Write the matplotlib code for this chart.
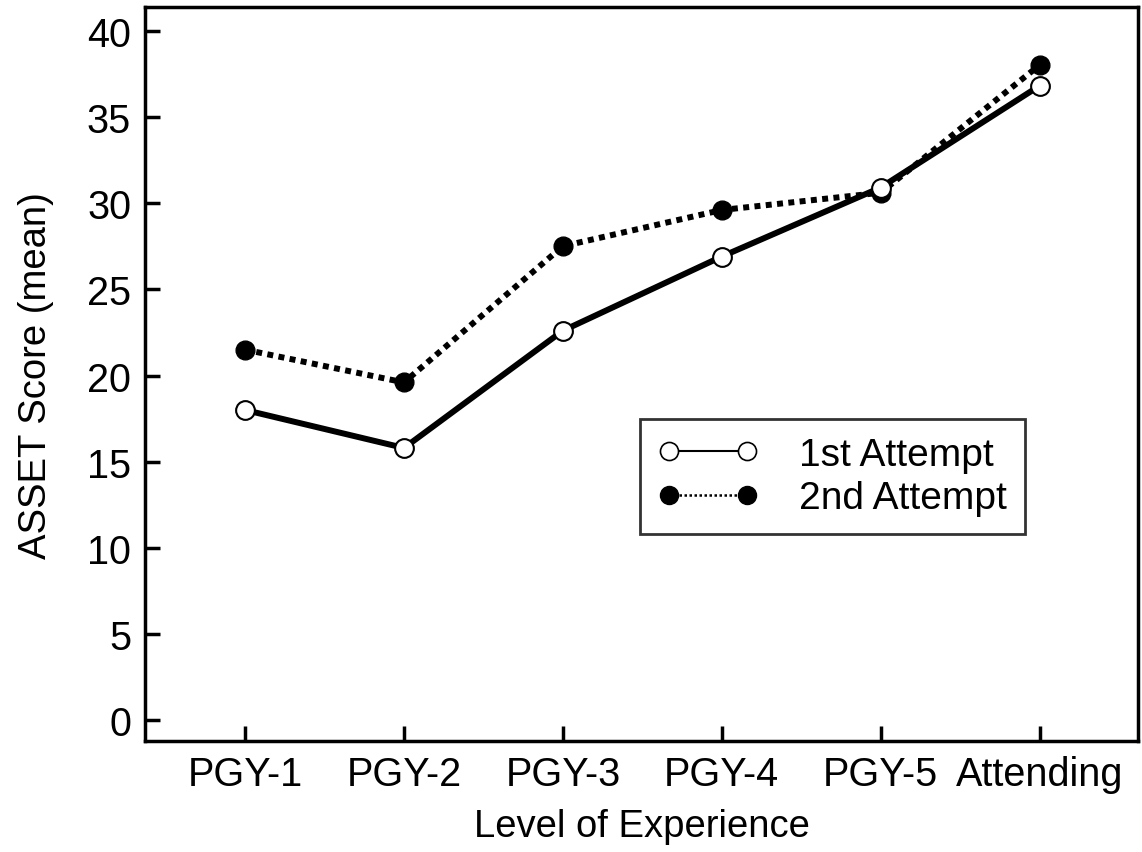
import matplotlib
matplotlib.use("Agg")
import matplotlib.pyplot as plt
from matplotlib.lines import Line2D

categories = ["PGY-1", "PGY-2", "PGY-3", "PGY-4", "PGY-5", "Attending"]
first_attempt = [18.0, 15.8, 22.6, 26.9, 30.9, 36.8]
second_attempt = [21.5, 19.6, 27.5, 29.6, 30.6, 38.0]
yticks = [0, 5, 10, 15, 20, 25, 30, 35, 40]

plt.rcParams['font.family'] = ['Liberation Sans', 'DejaVu Sans']

fig = plt.figure(figsize=(11.42, 8.53), dpi=100)
ax = fig.add_axes([0.127, 0.130, 0.8695, 0.8606])

x = list(range(len(categories)))
ax.plot(x, second_attempt, linestyle=(0, (1, 0.9)), color='black', linewidth=4.3,
        marker='o', markersize=13.5, markerfacecolor='black', markeredgecolor='black', zorder=2)
ax.plot(x, first_attempt, linestyle='-', color='black', linewidth=4.3,
        marker='o', markersize=13.5, markerfacecolor='white', markeredgecolor='black',
        markeredgewidth=1.5, zorder=3)

ax.set_xlim(-0.63, 5.62)
ax.set_ylim(-1.2, 41.37)
ax.set_xticks(x)
ax.set_xticklabels(categories)
ax.set_yticks(yticks)
ax.tick_params(direction='in', length=11, width=2.5, labelsize=28.5, pad=10)
for s in ax.spines.values():
    s.set_linewidth(2.5)

ax.set_xlabel("Level of Experience", fontsize=27.5, labelpad=11)
ax.set_ylabel("ASSET Score (mean)", fontsize=27.5, labelpad=24)

handles = [
    Line2D([], [], color='black', linestyle='-', linewidth=1.5, marker='o', markersize=13,
           markerfacecolor='white', markeredgecolor='black', markeredgewidth=1.2),
    Line2D([], [], color='black', linestyle=(0, (1, 1)), linewidth=1.8, marker='o', markersize=13,
           markerfacecolor='black', markeredgecolor='black'),
]
leg = ax.legend(handles, ["1st Attempt", "2nd Attempt"], loc='upper left',
                bbox_to_anchor=(0.4985, 0.4387), fontsize=28, frameon=True, fancybox=False,
                numpoints=2, handlelength=2.6, handletextpad=1.05, borderpad=0.45,
                labelspacing=0.2, borderaxespad=0)
leg.get_frame().set_edgecolor('black')
leg.get_frame().set_linewidth(2)

fig.savefig("out.png", dpi=100)
